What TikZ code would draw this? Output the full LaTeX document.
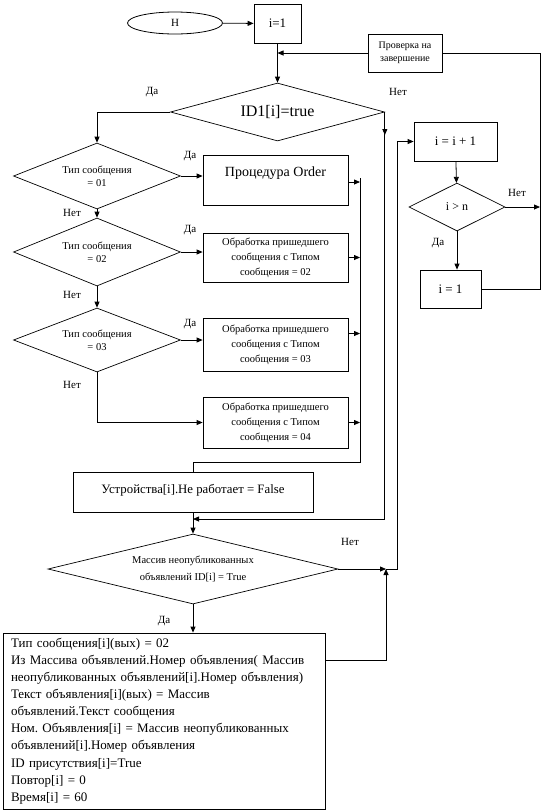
\documentclass[tikz,border=0pt]{standalone}
\usepackage{fontspec}
\setmainfont{Liberation Serif}
\usetikzlibrary{shapes.geometric, arrows.meta}
\frenchspacing

\begin{document}
\begin{tikzpicture}[
    x=1pt, y=-1pt,
    box/.style={draw, line width=0.8pt, inner sep=1pt, align=center,
                font=\fontsize{10.5}{15}\selectfont},
    cond/.style={draw, diamond, line width=0.7pt, inner sep=0pt, align=center,
                 font=\fontsize{10.5}{13}\selectfont},
    arr/.style={-{Triangle[length=6pt, width=5pt]}, line width=0.8pt},
    line/.style={line width=0.8pt},
    lab/.style={font=\fontsize{11}{13}\selectfont}
  ]
    \useasboundingbox (0,0) rectangle (543,812);

    % Top: start and loop control
    \node[box, ellipse, minimum width=95pt, minimum height=22pt,
          font=\fontsize{11}{13}\selectfont]            (start)  at (175,23)   {Н};
    \node[box, minimum width=47pt, minimum height=39pt,
          font=\fontsize{13}{15}\selectfont]            (init)   at (277.5,23.5) {i=1};
    \node[box, minimum width=74pt, minimum height=38pt,
          font=\fontsize{10}{13}\selectfont]            (check)  at (405,53)   {Проверка на\\завершение};
    \node[cond, minimum width=214pt, minimum height=58pt, aspect=3.7,
          font=\fontsize{16}{18}\selectfont]            (idone)  at (277.5,112) {ID1[i]=true};

    % Left column: message type checks
    \node[cond, minimum width=167pt, minimum height=66pt, aspect=2.5] (typeA) at (97,176) {Тип сообщения\\= 01};
    \node[cond, minimum width=167pt, minimum height=68pt, aspect=2.5] (typeB) at (97,252) {Тип сообщения\\= 02};
    \node[cond, minimum width=167pt, minimum height=64pt, aspect=2.5] (typeC) at (97,340) {Тип сообщения\\= 03};

    % Middle column: handlers
    \node[box, minimum width=145pt, minimum height=50pt, font=\fontsize{14}{16}\selectfont,
          text height=10pt, text depth=17pt]            (order)  at (275.5,180)   {Процедура Order};
    \node[box, minimum width=145pt, minimum height=49pt] (procB) at (275.5,257.5) {Обработка пришедшего\\сообщения с Типом\\сообщения = 02};
    \node[box, minimum width=145pt, minimum height=53pt] (procC) at (275.5,344.5) {Обработка пришедшего\\сообщения с Типом\\сообщения = 03};
    \node[box, minimum width=145pt, minimum height=51pt] (procD) at (275.5,422.5) {Обработка пришедшего\\сообщения с Типом\\сообщения = 04};

    % Lower part
    \node[box, minimum width=240pt, minimum height=40pt, font=\fontsize{12.8}{14}\selectfont,
          text depth=6pt]                               (dev)    at (193,492) {Устройства[i].Не работает = False};
    \node[cond, minimum width=290pt, minimum height=70pt, aspect=4,
          font=\fontsize{10.5}{17}\selectfont]          (unpub)  at (193,569) {Массив неопубликованных\\объявлений ID[i] = True};
    \node[box, minimum width=322pt, minimum height=176pt, text width=306pt, inner xsep=8pt,
          align=left, font=\fontsize{13}{17.1}\selectfont] (publish) at (164,721)
      {Тип сообщения[i](вых) = 02\\
       Из Массива объявлений.Номер объявления( Массив\\
       неопубликованных объявлений[i].Номер объвления)\\
       Текст объявления[i](вых) = Массив\\
       объявлений.Текст сообщения\\
       Ном. Объявления[i] = Массив неопубликованных\\
       объявлений[i].Номер объявления\\
       ID присутствия[i]=True\\
       Повтор[i] = 0\\
       Время[i] = 60};

    % Right column: counter
    \node[box, minimum width=83pt, minimum height=39pt, font=\fontsize{13}{15}\selectfont] (inc)   at (455.5,141.5) {i = i + 1};
    \node[cond, minimum width=96pt, minimum height=48pt, aspect=2,
          font=\fontsize{12}{14}\selectfont]            (cmp)    at (457,207)     {i > n};
    \node[box, minimum width=61pt, minimum height=38pt, font=\fontsize{13}{15}\selectfont] (reset) at (450.5,289)   {i = 1};

    % Junction points
    \coordinate (busTop) at (360,178);
    \coordinate (busBot) at (360,462);
    \coordinate (joinA)  at (193,519);
    \coordinate (merge)  at (386,569);
    \coordinate (riseX)  at (397,569);
    \coordinate (loopR)  at (540,53);

    % Arrows: top
    \draw[arr]  (start) -- (init);
    \draw[arr]  (init) -- (idone);
    \draw[arr]  (check.west) -- (check.west -| init.south);
    \draw[line] (reset.east) -| (loopR) -- (check.east);
    \draw[arr]  (cmp.east) -- (cmp.east -| loopR);
    \draw[arr]  (idone.west) -| (typeA.north);
    \draw[arr]  (idone.east) -- ++(0,23);
    \draw[arr]  (idone.east) |- (joinA);

    % Arrows: type checks -> handlers
    \draw[arr] (typeA.east) -- (typeA.east -| order.west);
    \draw[arr] (typeB.east) -- (typeB.east -| procB.west);
    \draw[arr] (typeC.east) -- (typeC.east -| procC.west);
    \draw[arr] (typeA) -- (typeB);
    \draw[arr] (typeB) -- (typeC);
    \draw[arr] (typeC.south) |- (procD.west);

    % Arrows: handlers -> bus
    \draw[arr] ([yshift=-2pt]order.east) -- ([yshift=-2pt]order.east -| busTop);
    \draw[arr] (procB.east) -- (procB.east -| busTop);
    \draw[arr] ([yshift=11pt]procC.east) -- ([yshift=11pt]procC.east -| busTop);
    \draw[arr] (procD.east) -- (procD.east -| busTop);
    \draw[line] (busTop) -- (busBot) -| (dev.north);

    % Arrows: lower part
    \draw[arr]  (dev) -- (unpub);
    \draw[arr]  (unpub.east) -- (merge);
    \draw[arr]  (unpub.south) -- (unpub.south |- publish.north);
    \draw[arr]  ([yshift=61pt]publish.east) -| (merge);
    \draw[arr]  (merge) -- (riseX) |- (inc.west);
    \draw[arr]  (inc) -- (cmp);
    \draw[arr]  (cmp.south) -- (cmp.south |- reset.north);

    % Branch labels
    \node[lab] (yesMain) at (152,92)  {Да};
    \node[lab] (noMain)  at (398,92)  {Нет};
    \node[lab] (yesA)    at (190,156) {Да};
    \node[lab] (noA)     at (72,213)  {Нет};
    \node[lab] (yesB)    at (190,230) {Да};
    \node[lab] (noB)     at (72,295)  {Нет};
    \node[lab] (yesC)    at (190,324) {Да};
    \node[lab] (noC)     at (72,385)  {Нет};
    \node[lab] (noLow)   at (350,542) {Нет};
    \node[lab] (yesLow)  at (164,621) {Да};
    \node[lab] (noCmp)   at (517,193) {Нет};
    \node[lab] (yesCmp)  at (438,243) {Да};
  \end{tikzpicture}
\end{document}
